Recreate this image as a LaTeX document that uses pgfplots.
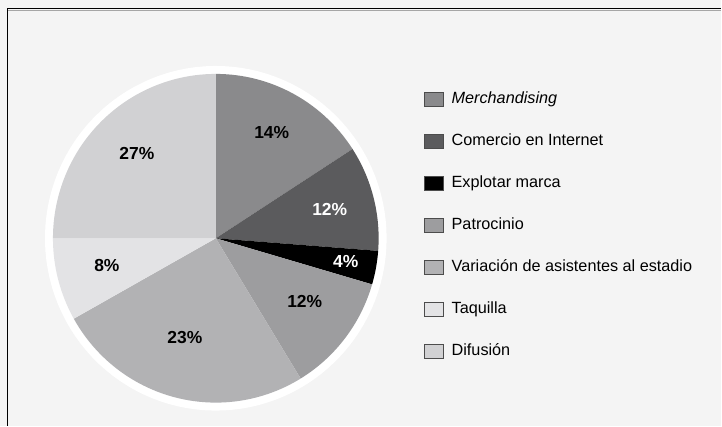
\documentclass[border=0pt]{standalone}
\usepackage{fontspec}
\setmainfont{Liberation Sans}
\usepackage{pgfplots}
\pgfplotsset{compat=1.18}
\definecolor{bgc}{HTML}{F4F4F4}
\definecolor{cMer}{HTML}{8A8A8C}
\definecolor{cCom}{HTML}{5B5B5D}
\definecolor{cExp}{HTML}{000000}
\definecolor{cPat}{HTML}{9D9D9F}
\definecolor{cVar}{HTML}{B2B2B4}
\definecolor{cTaq}{HTML}{E3E3E5}
\definecolor{cDif}{HTML}{D1D1D3}
\begin{document}
\begin{tikzpicture}
\fill[bgc] (0,0) rectangle (722bp,426bp);
\draw[black!35, line width=1bp] (8bp,415.8bp) -- (722bp,415.8bp);
\draw[black, line width=1.4bp] (7.5bp,0) -- (7.5bp,417.5bp) -- (722bp,417.5bp);
\begin{axis}[
  scale only axis, width=722bp, height=426bp,
  xmin=0, xmax=722, ymin=0, ymax=426,
  hide axis,
  legend cell align=left,
  legend style={at={(axis cs:424,334)}, anchor=north west, draw=none, fill=none,
    inner sep=0pt, row sep=27bp, font=\fontsize{16.3}{19}\selectfont,
    nodes={inner sep=0pt, text height=11.5bp, text depth=3.5bp},
    /tikz/every odd column/.append style={column sep=8bp}},
  legend image code/.code={\draw[#1, draw=black!70, line width=0.9bp] (0bp,-7bp) rectangle (19bp,7bp);},
]
% white ring behind the pie
\addplot[fill=white, draw=none, domain=0:360, samples=120, forget plot]
  ({216+171*cos(x)},{187.5+172.5*sin(x)}) -- cycle;
% slices: start and end angles (degrees, clockwise from the top)
\addplot[fill=cMer, draw=none, domain=90:32.9, samples=40]
  ({216+163*cos(x)},{187.5+164.5*sin(x)}) -- (axis cs:216,187.5) -- cycle;
\addlegendentry{\textit{Merchandising}}
\addplot[fill=cCom, draw=none, domain=32.9:-4.4, samples=30]
  ({216+163*cos(x)},{187.5+164.5*sin(x)}) -- (axis cs:216,187.5) -- cycle;
\addlegendentry{Comercio en Internet}
\addplot[fill=cExp, draw=none, domain=-4.4:-16.3, samples=12]
  ({216+163*cos(x)},{187.5+164.5*sin(x)}) -- (axis cs:216,187.5) -- cycle;
\addlegendentry{Explotar marca}
\addplot[fill=cPat, draw=none, domain=-16.3:-58.6, samples=30]
  ({216+163*cos(x)},{187.5+164.5*sin(x)}) -- (axis cs:216,187.5) -- cycle;
\addlegendentry{Patrocinio}
\addplot[fill=cVar, draw=none, domain=-58.6:-150.7, samples=60]
  ({216+163*cos(x)},{187.5+164.5*sin(x)}) -- (axis cs:216,187.5) -- cycle;
\addlegendentry{Variación de asistentes al estadio}
\addplot[fill=cTaq, draw=none, domain=-150.7:-180, samples=20]
  ({216+163*cos(x)},{187.5+164.5*sin(x)}) -- (axis cs:216,187.5) -- cycle;
\addlegendentry{Taquilla}
\addplot[fill=cDif, draw=none, domain=-180:-270, samples=50]
  ({216+163*cos(x)},{187.5+164.5*sin(x)}) -- (axis cs:216,187.5) -- cycle;
\addlegendentry{Difusión}
% percentage labels
\addplot[draw=none, mark=none, forget plot, point meta=explicit symbolic,
  nodes near coords={\pgfplotspointmeta\%},
  every node near coord/.append style={font=\bfseries\fontsize{17.5}{20}\selectfont, text=black, anchor=center, inner sep=0pt}]
  table[meta=lab] {
x y lab
272 293 14
305 124 12
185 88 23
107 160 8
137 272 27
};
\addplot[draw=none, mark=none, forget plot, point meta=explicit symbolic,
  nodes near coords={\pgfplotspointmeta\%},
  every node near coord/.append style={font=\bfseries\fontsize{17.5}{20}\selectfont, text=white, anchor=center, inner sep=0pt}]
  table[meta=lab] {
x y lab
330 216 12
346 164 4
};
\end{axis}
\end{tikzpicture}
\end{document}
